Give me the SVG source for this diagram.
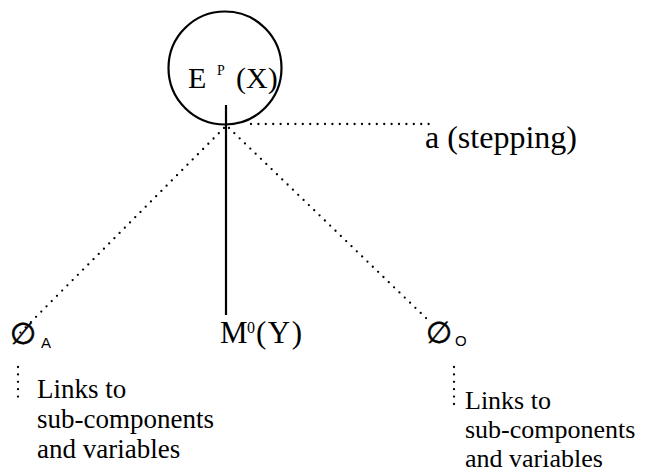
<svg xmlns="http://www.w3.org/2000/svg" width="651" height="473" viewBox="0 0 651 473">
<style>
.t{font-family:"Liberation Serif","Times New Roman",serif;fill:#000}
.m{font-size:30px}
.s{font-size:27px}
.r{font-size:26px}
.sub{font-family:"Liberation Sans",Arial,sans-serif;font-size:15px;fill:#000}
.phi{font-family:"DejaVu Sans",sans-serif;font-size:30px;fill:#000;stroke:#000;stroke-width:0.6}
.dot{stroke:#000;stroke-width:2.3;stroke-linecap:round;stroke-dasharray:0 7.4;fill:none}
.solid{stroke:#000;stroke-width:2.2;fill:none}
</style>
<rect width="651" height="473" fill="#fff"/>
<g id="connectors">
<line class="solid" x1="226" y1="105" x2="226" y2="315"/>
<line class="dot" x1="251" y1="124" x2="436" y2="124"/>
<line class="dot" x1="224" y1="128" x2="20" y2="333"/>
<line class="dot" x1="229" y1="128" x2="428" y2="320"/>
<line class="dot" x1="18" y1="367" x2="18" y2="400"/>
<line class="dot" x1="454" y1="367" x2="454" y2="405"/>
</g>
<g id="node-E">
<circle cx="225" cy="68" r="56.5" fill="none" stroke="#000" stroke-width="2.2"/>
<text class="t m" x="188" y="88">E</text>
<text class="t" x="217" y="75" font-size="14">P</text>
<text class="t m" x="236" y="88">(X)</text>
</g>
<g id="label-a">
<text class="t" x="425" y="148" font-size="32">a (stepping)</text>
</g>
<g id="node-M">
<text class="t" x="220" y="343" style="font-size:31px">M</text>
<text class="t" x="247" y="333" font-size="16">0</text>
<text class="t" x="256" y="343" style="font-size:31px;letter-spacing:1.5px">(Y)</text>
</g>
<g id="node-phiA">
<text class="phi" x="10" y="344">∅</text>
<text class="sub" x="41" y="348">A</text>
</g>
<g id="node-phiO">
<text class="phi" x="426" y="343">∅</text>
<text class="sub" x="455" y="346">O</text>
</g>
<g id="note-A">
<text class="t s" x="37" y="398">Links to</text>
<text class="t s" x="37" y="428">sub-components</text>
<text class="t s" x="37" y="458">and variables</text>
</g>
<g id="note-O">
<text class="t r" x="465" y="409">Links to</text>
<text class="t r" x="465" y="438">sub-components</text>
<text class="t r" x="465" y="467">and variables</text>
</g>
</svg>
